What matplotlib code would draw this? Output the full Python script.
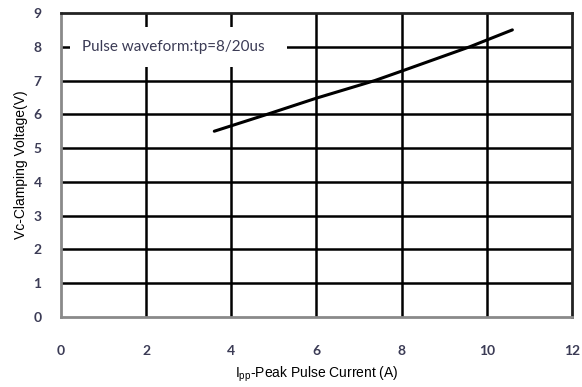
import matplotlib
matplotlib.use("Agg")
import matplotlib.pyplot as plt
from matplotlib.patches import Rectangle

# clamping curve
ipp = [3.6, 4.84, 6.0, 7.37, 8.0, 9.6, 10.6]
vc = [5.5, 6.0, 6.48, 7.0, 7.28, 8.0, 8.5]
xticks = [0, 2, 4, 6, 8, 10, 12]
yticks = [0, 1, 2, 3, 4, 5, 6, 7, 8, 9]
note = "Pulse waveform:tp=8/20us"

tick_col = "#3b3b55"

fig = plt.figure(figsize=(5.82, 3.87), dpi=100)
ax = fig.add_axes([0.1048, 0.1809, 0.8780, 0.7855])
ax.set_xlim(0, 12); ax.set_ylim(0, 9)
ax.set_xticks(xticks); ax.set_yticks(yticks)

for y in yticks[1:-1]:
    ax.axhline(y, color="black", lw=1.8, zorder=1)
for x in xticks[1:-1]:
    ax.axvline(x, color="black", lw=1.8, zorder=1)

# white box behind the waveform note
ax.add_patch(Rectangle((0.21, 7.4), 5.1, 1.19, facecolor="white", edgecolor="none", zorder=2))
ax.text(0.5, 8.0, note, fontsize=11, family="Lato", color=tick_col, va="center", ha="left", zorder=3)

ax.plot(ipp, vc, color="black", lw=2.2, zorder=4, solid_capstyle="round")

for side in ("left", "bottom"):
    ax.spines[side].set_color("#8a8a8a"); ax.spines[side].set_linewidth(2)
for side in ("top", "right"):
    ax.spines[side].set_color("#222222"); ax.spines[side].set_linewidth(2)
ax.tick_params(length=0, labelsize=10, labelcolor=tick_col)
ax.tick_params(axis="x", pad=20)
ax.tick_params(axis="y", pad=14)
for lab in ax.get_xticklabels() + ax.get_yticklabels():
    lab.set_family("Lato"); lab.set_fontweight("bold")

ax.set_xlabel(r"I$_{\mathregular{pp}}$-Peak Pulse Current (A)", fontsize=10, family="Liberation Sans", labelpad=6)
ax.set_ylabel("Vc-Clamping Voltage(V)", fontsize=10, family="Liberation Sans", labelpad=4)

fig.savefig("out.png", dpi=100)
